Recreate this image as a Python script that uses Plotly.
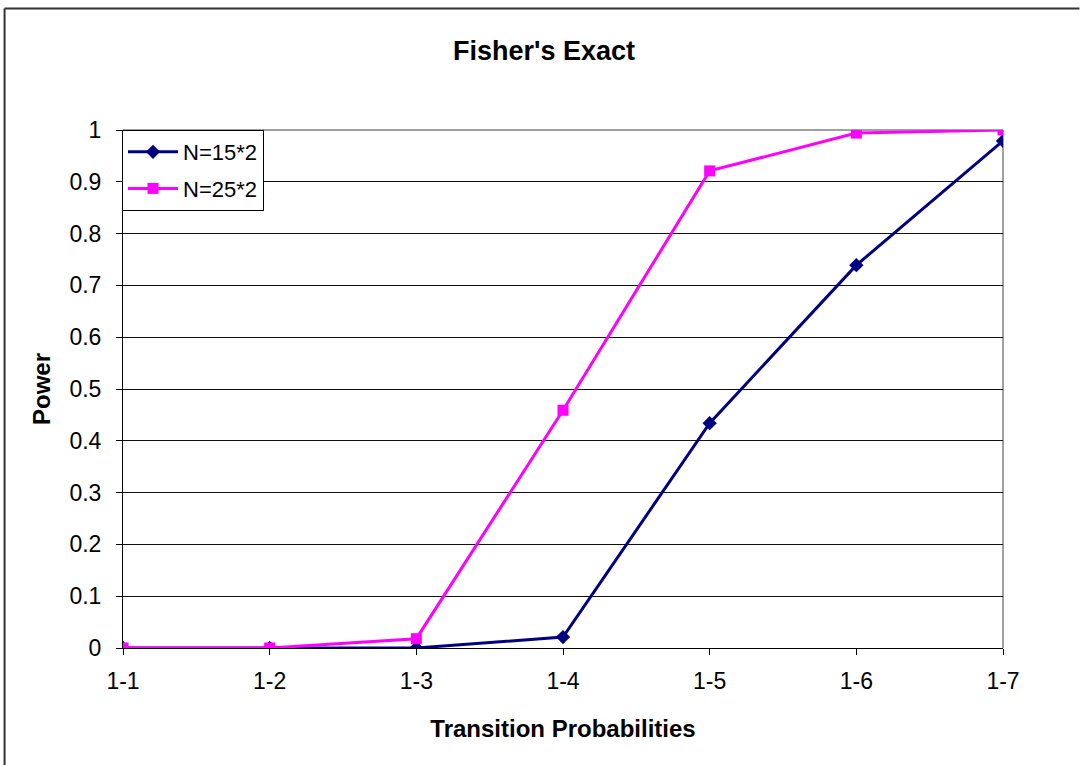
import plotly.graph_objects as go

categories = ["1-1", "1-2", "1-3", "1-4", "1-5", "1-6", "1-7"]
power_n15 = [0.0, 0.0, 0.0, 0.021, 0.434, 0.739, 0.979]
power_n25 = [0.0, 0.0, 0.018, 0.459, 0.921, 0.994, 1.0]
y_ticks = [0, 0.1, 0.2, 0.3, 0.4, 0.5, 0.6, 0.7, 0.8, 0.9, 1]
y_tick_text = ["0", "0.1", "0.2", "0.3", "0.4", "0.5", "0.6", "0.7", "0.8", "0.9", "1"]

FONT = "Liberation Sans, Arial, sans-serif"

fig = go.Figure()
fig.add_trace(go.Scatter(
    x=categories, y=power_n15, name="N=15*2", mode="lines+markers",
    legendgroup="a",
    line=dict(color="#000080", width=3),
    marker=dict(symbol="diamond", size=11, color="#000080"),
))
fig.add_trace(go.Scatter(
    x=categories, y=power_n25, name="N=25*2", mode="lines+markers",
    legendgroup="b",
    line=dict(color="#FF00FF", width=3),
    marker=dict(symbol="square", size=11, color="#FF00FF"),
))

W, H = 1080, 765
L, R, T, B = 123, 76.5, 130, 117
pw, ph = W - L - R, H - T - B


def px(x):
    return (x - L) / pw


def py(y):
    return (H - B - y) / ph


fig.update_layout(
    width=W, height=H,
    margin=dict(l=L, r=R, t=T, b=B, autoexpand=False),
    paper_bgcolor="white", plot_bgcolor="white",
    font=dict(family=FONT, size=23, color="black"),
    showlegend=True,
    legend=dict(
        x=px(122), y=py(130), xanchor="left", yanchor="top",
        bordercolor="black", borderwidth=1, bgcolor="white",
        font=dict(size=22), tracegroupgap=5, itemwidth=50,
    ),
    xaxis=dict(
        type="category", range=[0, len(categories) - 1],
        showline=True, linecolor="black", linewidth=1,
        ticks="outside", ticklen=6, tickcolor="black",
        showgrid=False, zeroline=False,
        tickfont=dict(size=23), ticklabelstandoff=6,
        title=dict(text="<b>Transition Probabilities</b>", font=dict(size=24), standoff=27),
    ),
    yaxis=dict(
        range=[0, 1], tickvals=y_ticks, ticktext=y_tick_text,
        showline=True, linecolor="black", linewidth=1,
        ticks="outside", ticklen=6, tickcolor="black",
        showgrid=True, gridcolor="#111111", gridwidth=1, zeroline=False,
        tickfont=dict(size=23), ticklabelstandoff=10,
        title=dict(text="<b>Power</b>", font=dict(size=24), standoff=12),
    ),
    annotations=[dict(
        text="<b>Fisher's Exact</b>", x=px(544), y=py(51),
        xref="paper", yref="paper", showarrow=False,
        font=dict(size=27), xanchor="center", yanchor="middle",
    )],
    shapes=[
        # gray plot-area edges (top and right)
        dict(type="line", xref="paper", yref="paper", x0=0, x1=1, y0=1, y1=1,
             layer="between", line=dict(color="#808080", width=1.5)),
        dict(type="line", xref="paper", yref="paper", x0=1, x1=1, y0=0, y1=1,
             layer="between", line=dict(color="#808080", width=1.5)),
        # chart frame
        dict(type="line", xref="paper", yref="paper", x0=px(4.5), x1=px(1080), y0=py(8.5), y1=py(8.5),
             line=dict(color="#333333", width=2)),
        dict(type="line", xref="paper", yref="paper", x0=px(4.5), x1=px(4.5), y0=py(8.5), y1=py(765),
             line=dict(color="#333333", width=2)),
    ],
)

fig.write_html("out.html")
